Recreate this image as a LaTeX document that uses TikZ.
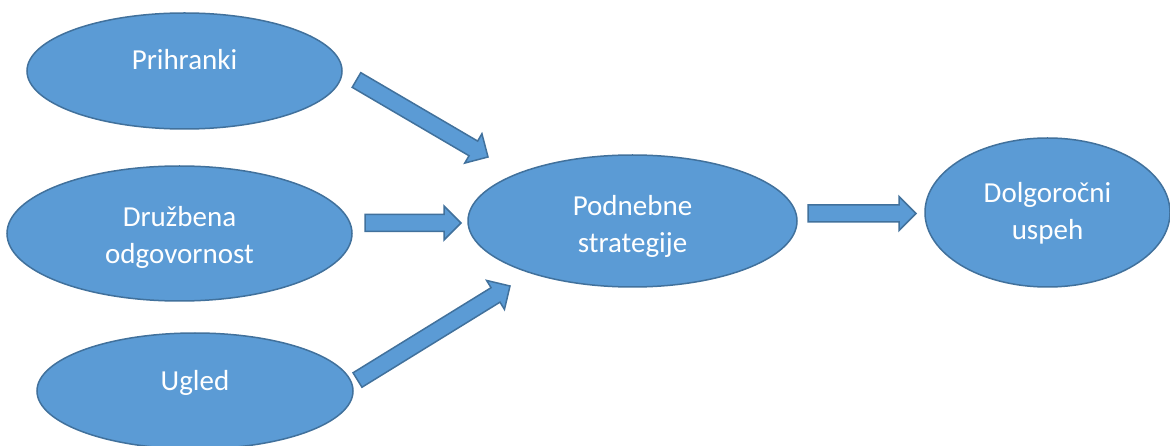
\documentclass[tikz,border=0pt]{standalone}
\usepackage{fontspec}
\setmainfont{Carlito}
\usetikzlibrary{shapes.geometric,calc}
\definecolor{ovalfill}{HTML}{5B9BD5}
\definecolor{ovaldraw}{HTML}{41719C}

% block arrow from tail #1 to tip #2
\newcommand{\blockarrow}[2]{%
  \coordinate (ba) at ($(#2)!17pt!(#1)$);
  \filldraw[arrowbox] ($(#1)!8.5pt!90:(#2)$) -- ($(ba)!8.5pt!90:(#2)$)
    -- ($(ba)!17pt!90:(#2)$) -- (#2) -- ($(ba)!17pt!-90:(#2)$)
    -- ($(ba)!8.5pt!-90:(#2)$) -- ($(#1)!8.5pt!-90:(#2)$) -- cycle;}

\begin{document}
\begin{tikzpicture}[x=1pt,y=-1pt,
    oval/.style={ellipse,fill=ovalfill,draw=ovaldraw,line width=1.5pt,inner sep=0pt},
    txt/.style={text=white,align=center,font=\fontsize{29}{37}\selectfont},
    arrowbox/.style={fill=ovalfill,draw=ovaldraw,line width=1.5pt,line join=miter}]
    \useasboundingbox[fill=white] (0,0) rectangle (1170,446);
    % ellipses
    \node[oval,minimum width=315pt,minimum height=116pt] (prih) at (184.5,71) {};
    \node[oval,minimum width=345pt,minimum height=135pt] (druz) at (179.5,233.5) {};
    \node[oval,minimum width=316pt,minimum height=116pt] (ugled) at (195,391) {};
    \node[oval,minimum width=329pt,minimum height=132pt] (podn) at (632.5,221) {};
    \node[oval,minimum width=245pt,minimum height=149pt] (dolg) at (1047.5,212.5) {};
    % texts
    \node[txt] (prih-t) at (184.5,60) {Prihranki};
    \node[txt] (druz-t) at (179.5,237) {Družbena\\odgovornost};
    \node[txt] (ugled-t) at (195,383) {Ugled};
    \node[txt] (podn-t) at (632.5,226.5) {Podnebne\\strategije};
    \node[txt] (dolg-t) at (1047.5,213) {Dolgoročni\\uspeh};
    % arrow ends
    \coordinate (a1) at (356.5,80);  \coordinate (b1) at (488,157);
    \coordinate (a2) at (365,223);   \coordinate (b2) at (461,223);
    \coordinate (a3) at (357.5,380); \coordinate (b3) at (510,286);
    \coordinate (a4) at (808,213.5); \coordinate (b4) at (916,213.5);
    \blockarrow{a1}{b1}
    \blockarrow{a2}{b2}
    \blockarrow{a3}{b3}
    \blockarrow{a4}{b4}
\end{tikzpicture}
\end{document}
